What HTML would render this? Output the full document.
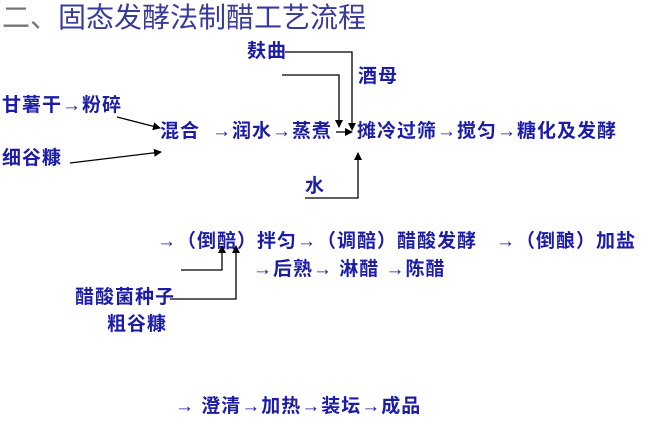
<!DOCTYPE html>
<html><head><meta charset="utf-8"><style>
body{margin:0;width:660px;height:428px;background:#fff;position:relative;overflow:hidden;font-family:"Liberation Sans","Noto Sans CJK SC",sans-serif}
.t{position:absolute;font-weight:bold;color:#1c1ca6;font-size:19px;line-height:20px;white-space:nowrap;letter-spacing:1px}
.h{position:absolute;left:2px;top:2px;font-size:28px;line-height:32px;color:#3a3a9c;white-space:nowrap;font-family:"Liberation Sans","Noto Sans CJK SC",sans-serif}
svg{position:absolute;left:0;top:0}
</style></head><body>
<div class="h"><span style="color:#777">二、</span>固态发酵法制醋工艺流程</div>
<div class="t" style="left:247px;top:42px">麸曲</div>
<div class="t" style="left:358px;top:67px">酒母</div>
<div class="t" style="left:2px;top:96px">甘薯干→粉碎</div>
<div class="t" style="left:2px;top:149px">细谷糠</div>
<div class="t" style="left:160px;top:122px">混合</div>
<div class="t" style="left:212px;top:122px">→润水→蒸煮</div>
<div class="t" style="left:357px;top:122px">摊冷过筛→搅匀→糖化及发酵</div>
<div class="t" style="left:305px;top:177px">水</div>
<div class="t" style="left:157px;top:232px">→（倒醅）拌匀→（调醅）醋酸发酵</div>
<div class="t" style="left:496px;top:232px">→（倒酿）加盐</div>
<div class="t" style="left:253px;top:260px">→后熟→ 淋醋 →陈醋</div>
<div class="t" style="left:75px;top:288px">醋酸菌种子</div>
<div class="t" style="left:107px;top:315px">粗谷糠</div>
<div class="t" style="left:175px;top:397px">→ 澄清→加热→装坛→成品</div>
<svg width="660" height="428">
<defs><marker id="a" markerWidth="8" markerHeight="8" refX="7" refY="4" orient="auto" markerUnits="userSpaceOnUse"><path d="M0,0L8,4L0,8z" fill="#000"/></marker></defs>
<g stroke="#000" stroke-width="1.3" fill="none">
<path d="M285,52H352V130" marker-end="url(#a)"/>
<path d="M282,75H339V127" marker-end="url(#a)"/>
<path d="M336,132H352" marker-end="url(#a)"/>
<path d="M117,117L160,128" marker-end="url(#a)"/>
<path d="M70,163L161,152" marker-end="url(#a)"/>
<path d="M305,198H358V153" marker-end="url(#a)"/>
<path d="M181,270H222V246" marker-end="url(#a)"/>
<path d="M170,299H236V246" marker-end="url(#a)"/>
</g></svg>
</body></html>
